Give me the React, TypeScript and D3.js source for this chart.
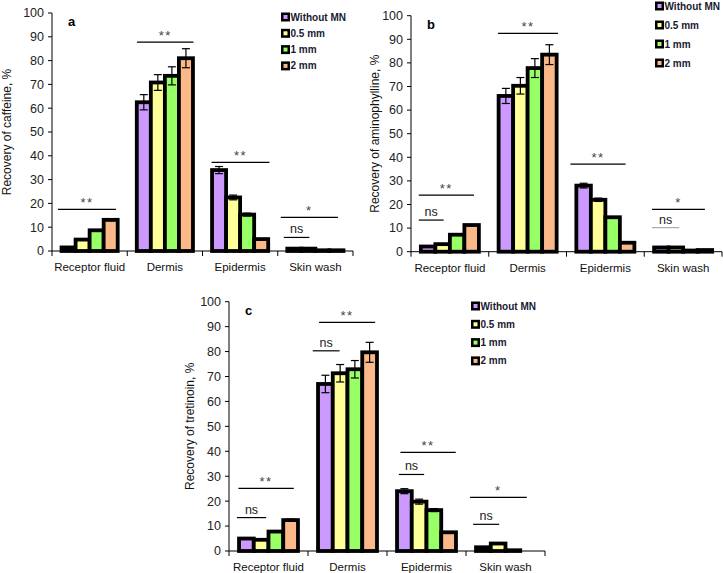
import React from "react";
import * as d3 from "d3";

const categories = ["Receptor fluid", "Dermis", "Epidermis", "Skin wash"];
const seriesNames = ["Without MN", "0.5 mm", "1 mm", "2 mm"];
const seriesColors = ["#cc99ff", "#ffff99", "#99ff66", "#fbb98a"];
const yTicks = [0, 10, 20, 30, 40, 50, 60, 70, 80, 90, 100];

// Panel a: caffeine
const caffeineValues = [
  [1.5, 62.5, 34, 1.0],
  [4.8, 70.8, 22.5, 1.0],
  [8.7, 73.6, 15.3, 0.3],
  [13.1, 81, 5, 0.3],
];
const caffeineErrors = [
  [0, 3.2, 1.5, 0],
  [0, 3.3, 1, 0],
  [0, 3.8, 0.6, 0],
  [0.4, 4, 0, 0],
];
// [category, y value, start fraction, end fraction, label, gray]
const caffeineSig: [number, number, number, number, string, boolean][] = [
  [0, 17.5, 0.08, 0.85, "**", false],
  [1, 87.8, 0.13, 0.88, "**", false],
  [2, 37.2, 0.12, 0.89, "**", false],
  [3, 14.1, 0.04, 0.8, "*", false],
  [3, 5.7, 0.08, 0.42, "ns", false],
];

// Panel b: aminophylline
const aminoValues = [
  [2.2, 66, 28, 1.8],
  [3.2, 70.3, 22, 1.8],
  [7.2, 77.8, 14.6, 0.5],
  [11.3, 83.5, 3.8, 0.7],
];
const aminoErrors = [
  [0, 3.2, 1, 0],
  [0, 3.5, 0.7, 0],
  [0, 4, 0, 0],
  [0, 4.2, 0, 0],
];
const aminoSig: [number, number, number, number, string, boolean][] = [
  [0, 24, 0.1, 0.81, "**", false],
  [0, 13.4, 0.1, 0.42, "ns", false],
  [1, 92.5, 0.12, 0.89, "**", false],
  [2, 37.1, 0.05, 0.76, "**", false],
  [3, 17.9, 0.1, 0.78, "*", false],
  [3, 10.2, 0.1, 0.45, "ns", true],
];

// Panel c: tretinoin
const tretValues = [
  [5, 67, 24, 1.5],
  [4.5, 71.3, 19.8, 3.0],
  [7.8, 72.9, 16.4, 0.3],
  [12.4, 79.7, 7.5, 0],
];
const tretErrors = [
  [0, 3.5, 1, 0],
  [0, 3.5, 1, 0],
  [0, 3.5, 0.6, 0],
  [0.4, 4, 0, 0],
];
const tretSig: [number, number, number, number, string, boolean][] = [
  [0, 25.1, 0.12, 0.82, "**", false],
  [0, 13.4, 0.1, 0.47, "ns", false],
  [1, 91.7, 0.14, 0.85, "**", false],
  [1, 80.3, 0.06, 0.4, "ns", false],
  [2, 39.6, 0.17, 0.87, "**", false],
  [2, 30.7, 0.15, 0.47, "ns", false],
  [3, 21.5, 0.05, 0.77, "*", false],
  [3, 10.7, 0.09, 0.42, "ns", false],
];

const FONT = "'Liberation Sans', Arial, sans-serif";

type PanelProps = {
  x0: number;
  x1: number;
  yTop: number;
  yBottom: number;
  values: number[][];
  errors: number[][];
  sig: [number, number, number, number, string, boolean][];
  title: string;
  titleX: number;
  letter: string;
  letterX: number;
  letterY: number;
  legendX: number;
  legendY: number;
  legendStep: number;
};

function Panel(p: PanelProps) {
  const y = d3.scaleLinear().domain([0, 100]).range([p.yBottom, p.yTop]);
  const xCat = d3.scaleBand<string>().domain(categories).range([p.x0, p.x1]).padding(0);
  const xSer = d3
    .scaleBand<string>()
    .domain(seriesNames)
    .range([0, xCat.bandwidth()])
    .paddingInner(0)
    .paddingOuter(0.68);
  const boundaries = categories.map((c) => xCat(c)!).concat([p.x1]);
  const midY = (p.yTop + p.yBottom) / 2;
  return (
    <g>
      {/* bars */}
      {seriesNames.map((s, si) =>
        categories.map((c, ci) => {
          const v = p.values[si][ci];
          const bx = xCat(c)! + xSer(s)!;
          const w = xSer.bandwidth();
          const top = y(v);
          return (
            <rect
              key={s + c}
              x={bx}
              y={top}
              width={w}
              height={Math.max(0, p.yBottom - top)}
              fill={seriesColors[si]}
              stroke="#000"
              strokeWidth={3.8}
            />
          );
        })
      )}
      {/* error bars */}
      {seriesNames.map((s, si) =>
        categories.map((c, ci) => {
          const e = p.errors[si][ci];
          if (!e) return null;
          const v = p.values[si][ci];
          const cx = xCat(c)! + xSer(s)! + xSer.bandwidth() / 2;
          return (
            <g key={"e" + s + c} stroke="#000" strokeWidth={1.2}>
              <line x1={cx} x2={cx} y1={y(v + e)} y2={y(v - e)} />
              <line x1={cx - 4} x2={cx + 4} y1={y(v + e)} y2={y(v + e)} />
              <line x1={cx - 4} x2={cx + 4} y1={y(v - e)} y2={y(v - e)} />
            </g>
          );
        })
      )}
      {/* axes */}
      <line x1={p.x0} x2={p.x0} y1={p.yTop} y2={p.yBottom} stroke="#000" strokeWidth={1} />
      {yTicks.map((t) => (
        <g key={"yt" + t}>
          <line x1={p.x0 - 4} x2={p.x0} y1={y(t)} y2={y(t)} stroke="#000" />
          <text
            x={p.x0 - 8}
            y={y(t)}
            dy="0.35em"
            textAnchor="end"
            fontSize={12.5}
            fontFamily={FONT}
            fill="#222"
          >
            {t}
          </text>
        </g>
      ))}
      <line x1={p.x0} x2={p.x1} y1={p.yBottom} y2={p.yBottom} stroke="#000" strokeWidth={1} />
      {boundaries.map((b, i) => (
        <line key={"xt" + i} x1={b} x2={b} y1={p.yBottom} y2={p.yBottom + 5} stroke="#000" />
      ))}
      {categories.map((c) => (
        <text
          key={"xl" + c}
          x={xCat(c)! + xCat.bandwidth() / 2}
          y={p.yBottom + 20}
          textAnchor="middle"
          fontSize={11.5}
          fontFamily={FONT}
          fill="#111"
        >
          {c}
        </text>
      ))}
      <text
        transform={`translate(${p.titleX},${midY}) rotate(-90)`}
        textAnchor="middle"
        fontSize={12}
        fontFamily={FONT}
        fill="#111"
      >
        {p.title}
      </text>
      <text x={p.letterX} y={p.letterY} fontSize={13} fontWeight="bold" fontFamily={FONT} fill="#000">
        {p.letter}
      </text>
      {/* significance */}
      {p.sig.map(([ci, v, f0, f1, label, gray], i) => {
        const cx0 = xCat(categories[ci])!;
        const bw = xCat.bandwidth();
        const xa = cx0 + f0 * bw;
        const xb = cx0 + f1 * bw;
        const ly = y(v);
        const isStar = label !== "ns";
        return (
          <g key={"s" + i}>
            <line x1={xa} x2={xb} y1={ly} y2={ly} stroke={gray ? "#aaa" : "#000"} strokeWidth={1.2} />
            <text
              x={(xa + xb) / 2}
              y={isStar ? ly - 2 : ly - 4}
              textAnchor="middle"
              fontSize={isStar ? 13 : 12.5}
              letterSpacing={isStar ? 1.5 : 0}
              fontFamily={FONT}
              fill={isStar ? "#444" : "#222"}
            >
              {label}
            </text>
          </g>
        );
      })}
      {/* legend */}
      {seriesNames.map((s, si) => {
        const ly = p.legendY + si * p.legendStep;
        return (
          <g key={"lg" + s}>
            <rect x={p.legendX} y={ly - 4.5} width={9} height={9} fill="#000" />
            <rect x={p.legendX + 2.5} y={ly - 2} width={4} height={4} fill={seriesColors[si]} />
            <text
              x={p.legendX + 9.5}
              y={ly}
              dy="0.35em"
              fontSize={10}
              fontWeight="bold"
              fontFamily={FONT}
              fill="#1a1a33"
            >
              {s}
            </text>
          </g>
        );
      })}
    </g>
  );
}

export default function App() {
  return (
    <svg
      width={723}
      height={573}
      style={{ position: "absolute", left: 0, top: 0, background: "#fff" }}
    >
      <rect x={0} y={0} width={723} height={573} fill="#fff" />
      <Panel
        x0={52}
        x1={353}
        yTop={13}
        yBottom={251}
        values={caffeineValues}
        errors={caffeineErrors}
        sig={caffeineSig}
        title="Recovery of caffeine, %"
        titleX={11}
        letter="a"
        letterX={68}
        letterY={26}
        legendX={281}
        legendY={17}
        legendStep={16.3}
      />
      <Panel
        x0={411}
        x1={722}
        yTop={15.7}
        yBottom={251.7}
        values={aminoValues}
        errors={aminoErrors}
        sig={aminoSig}
        title="Recovery of aminophylline, %"
        titleX={379}
        letter="b"
        letterX={427}
        letterY={29}
        legendX={655}
        legendY={6}
        legendStep={19}
      />
      <Panel
        x0={229}
        x1={545}
        yTop={301.7}
        yBottom={551}
        values={tretValues}
        errors={tretErrors}
        sig={tretSig}
        title="Recovery of tretinoin, %"
        titleX={194}
        letter="c"
        letterX={245}
        letterY={315}
        legendX={471}
        legendY={306}
        legendStep={18.3}
      />
    </svg>
  );
}
